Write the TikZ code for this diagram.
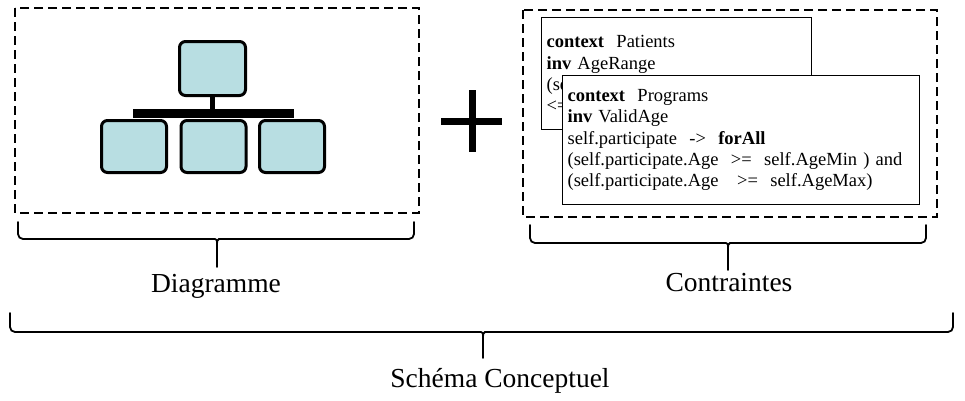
\documentclass[tikz,border=0pt]{standalone}
\usepackage{fontspec}
\setmainfont{Liberation Serif}
\usepackage{tikz}
\usetikzlibrary{calc,positioning}
\definecolor{orgblue}{RGB}{184,222,226}
\tikzstyle{orgbox}   = [draw=black, line width=3pt, fill=orgblue, rounded corners=6pt, inner sep=0pt]
\tikzstyle{framebox} = [draw=black, line width=1.8pt, dash pattern=on 9pt off 5pt]
\tikzstyle{codebox}  = [draw=black, line width=1.2pt, fill=white, align=left, anchor=north west,
                        inner xsep=5pt, inner ysep=0pt, font=\fontsize{18.5}{21.3}\selectfont]
\tikzstyle{braceline} = [line width=1.8pt, line cap=round]

\begin{document}
\begin{tikzpicture}[x=1pt, y=-1pt,
            label/.style={font=\fontsize{27.5}{30}\selectfont, anchor=base, inner sep=0pt}]
        \useasboundingbox (0,0) rectangle (965,400);

        % diagram part
        \draw[framebox] (15,8) rectangle (419,213);
        \node[fill=black, minimum width=161pt, minimum height=9pt, inner sep=0pt] (bar) at (213.5,113.5) {};
        \node[orgbox, minimum width=66pt, minimum height=54pt] (root) at (212.5,68.5) {};
        \draw[line width=5pt] (root.south) -- (root.south |- bar.north);
        \node[orgbox, minimum width=65pt, minimum height=52pt] (childA) at (134,146.5) {};
        \node[orgbox, minimum width=65pt, minimum height=52pt] (childB) at (213.5,146.5) {};
        \node[orgbox, minimum width=65pt, minimum height=52pt] (childC) at (292,146.5) {};

        % plus sign
        \draw[line width=7pt] (472,90) -- (472,152);
        \draw[line width=7pt] (441,121) -- (502,121);

        % constraints part
        \draw[framebox] (523,10) rectangle (937,217);
        \node[codebox, text width=260pt, minimum height=112pt] (patients) at (541,17) {
            \textbf{context}\ \ Patients\\
            \textbf{inv} AgeRange\\
            (se\\
            <=};
        \node[codebox, text width=347pt, minimum height=129pt] (programs) at (562,75) {
            \textbf{context}\ \ Programs\\
            \textbf{inv} ValidAge\\
            self.participate\ \ ->\ \ \textbf{forAll}\\
            (self.participate.Age\ \ >=\ \ self.AgeMin )\ and\\
            (self.participate.Age\ \ \ >=\ \ self.AgeMax)};

        % braces
        \foreach \xa/\xb/\xm/\yt/\yl/\yb in {18/414/217/222/239/267, 530/926/728/225/243/270, 10/953/483/313/332/358} {
            \draw[braceline, rounded corners=5pt] (\xa,\yt) -- (\xa,\yl) -- ($(\xm,\yl)+(-7,0)$)
                .. controls (\xm,\yl) and (\xm,\yl+2) .. (\xm,\yl+8) -- (\xm,\yb);
            \draw[braceline, rounded corners=5pt] (\xb,\yt) -- (\xb,\yl) -- ($(\xm,\yl)+(7,0)$)
                .. controls (\xm,\yl) and (\xm,\yl+2) .. (\xm,\yl+8);
        }

        \node[label] (diagLabel) at (216,292) {Diagramme};
        \node[label] (contrLabel) at (729,291) {Contraintes};
        \node[label] (schemaLabel) at (500,387) {Schéma Conceptuel};
    \end{tikzpicture}
\end{document}
